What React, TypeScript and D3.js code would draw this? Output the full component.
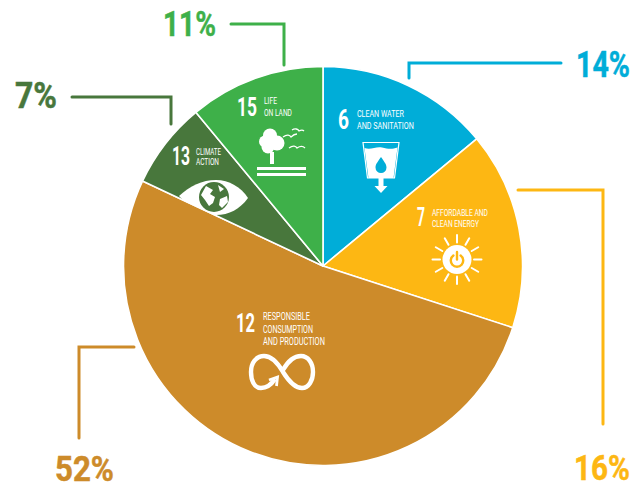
import React, { useLayoutEffect, useRef } from "react";
import * as d3 from "d3";

// Share of each Sustainable Development Goal, clockwise from twelve o'clock.
const goals = ["6", "7", "12", "13", "15"];
const shares = [14, 16, 52, 7, 11];
const shareLabels = ["14%", "16%", "52%", "7%", "11%"];
const colours = ["#00ADD8", "#FDB713", "#CD8B2A", "#48773C", "#3EB049"];
const goalTitles = [
  ["CLEAN WATER", "AND SANITATION"],
  ["AFFORDABLE AND", "CLEAN ENERGY"],
  ["RESPONSIBLE", "CONSUMPTION", "AND PRODUCTION"],
  ["CLIMATE", "ACTION"],
  ["LIFE", "ON LAND"],
];

const W = 641;
const H = 483;
const CX = 323;
const CY = 266;
const R = 199.5;
const FONT = "Roboto, sans-serif";

// Elbow leader lines running from each slice to its percentage.
const leaders: [number, number][][] = [
  [[409, 78], [409, 63], [561, 63]],
  [[518, 190], [603, 190], [603, 424]],
  [[134, 347], [79, 347], [79, 438]],
  [[72, 97], [171, 97], [171, 124]],
  [[231, 24], [284, 24], [284, 65]],
];

// x, baseline, width for the large percentages.
const percentBoxes = [
  [576, 77, 54],
  [574, 480, 56],
  [55, 481, 59],
  [15, 108, 42],
  [163, 36, 53],
];

// x, baseline, width and size for the goal numbers.
const numberBoxes = [
  [338, 129, 11, 27],
  [417, 226, 8, 25],
  [236, 332, 19, 26],
  [172, 165, 18, 25],
  [237, 116, 20, 26],
];

// x plus, per line, baseline and width for the goal titles.
const titleBoxes: { x: number; size: number; lines: [number, number][] }[] = [
  { x: 357, size: 9.5, lines: [[117, 47], [129, 57]] },
  { x: 432, size: 9, lines: [[215.5, 56], [226.5, 47]] },
  { x: 263, size: 10, lines: [[320, 47], [332.5, 50], [345, 62]] },
  { x: 196, size: 8.8, lines: [[154.5, 25], [165, 23]] },
  { x: 264, size: 9.5, lines: [[104, 13], [116, 28]] },
];

const sunRays = d3.range(12).map((i) => (i * Math.PI) / 6);

// Condenses a label horizontally until it spans the requested width.
function FitText({ x, y, width, size, fill, weight, thicken = 0, children }: any) {
  const ref = useRef<SVGTextElement>(null);
  useLayoutEffect(() => {
    const node = ref.current;
    if (!node) return;
    const natural = node.getComputedTextLength();
    node.setAttribute("transform", `translate(${x},${y}) scale(${width / natural},1)`);
  });
  return (
    <text
      ref={ref}
      transform={`translate(${x},${y})`}
      fontFamily={FONT}
      fontSize={size}
      fontWeight={weight}
      fill={fill}
      stroke={thicken ? fill : "none"}
      strokeWidth={thicken}
    >
      {children}
    </text>
  );
}

function WaterIcon() {
  return (
    <g>
      <path d="M363 142.5H399L394.5 178H367.5Z" fill="none" stroke="#fff" strokeWidth="1.2" />
      <path d="M364.5 148C371 150.5 376 146 382 147.5C388 149 392 149.5 397.5 147.5L393.5 178H368.5Z" fill="#fff" />
      <path d="M381 157C384 161.5 386.5 164 386.5 167.5A5.5 5.5 0 0 1 375.5 167.5C375.5 164 378 161.5 381 157Z" fill="#00ADD8" />
      <path d="M378.5 178H383.5V186H387.5L381 193L374.5 186H378.5Z" fill="#fff" />
    </g>
  );
}

function SunIcon() {
  const cx = 457;
  const cy = 259.5;
  return (
    <g>
      {sunRays.map((a) => (
        <line
          key={a}
          x1={cx + 17 * Math.cos(a)}
          y1={cy + 17 * Math.sin(a)}
          x2={cx + 24.5 * Math.cos(a)}
          y2={cy + 24.5 * Math.sin(a)}
          stroke="#fff"
          strokeWidth="2"
          strokeLinecap="round"
        />
      ))}
      <circle cx={cx} cy={cy} r={14.5} fill="#fff" />
      <path
        d={`M${cx - 3.6} ${cy - 4}A6.2 6.2 0 1 0 ${cx + 3.6} ${cy - 4}`}
        fill="none"
        stroke="#FDB713"
        strokeWidth="2.4"
        strokeLinecap="round"
      />
      <line x1={cx} y1={cy - 7.5} x2={cx} y2={cy} stroke="#FDB713" strokeWidth="2.4" strokeLinecap="round" />
    </g>
  );
}

function TreeIcon() {
  return (
    <g fill="#fff">
      <circle cx={270} cy={135.5} r={7} />
      <circle cx={265} cy={141.5} r={6} />
      <circle cx={277} cy={143} r={7.5} />
      <circle cx={268} cy={147} r={6.5} />
      <rect x={270} y={152} width={4} height={12} />
      <rect x={257} y={167} width={49} height={3} />
      <rect x={257} y={173} width={49} height={3} />
      <g fill="none" stroke="#fff" strokeWidth="1.3">
        <path d="M283 137C287 134 290 135 291 137C293 135 296 134 297 134" />
        <path d="M292 130C295 128 298 129 299 131C301 130 303 130 304 131" />
        <path d="M289 148C293 145 296 146 297 148C300 146 303 146 305 148" />
      </g>
    </g>
  );
}

function EyeIcon({ clip }: { clip: string }) {
  return (
    <g clipPath={`url(#${clip})`}>
      <path d="M179 196C190 186 202 180 216 180C229 180 241 187 248 198C240 209 229 215 216 215C202 215 189 207 179 196Z" fill="#fff" />
      <circle cx={214} cy={197} r={15} fill="#48773C" />
      <path d="M206 186L213 190L210 194L215 197L213 203L209 206L205 200L201 195Z" fill="#fff" />
      <path d="M218 185L224 189L220 192Z" fill="#fff" />
      <path d="M220 199L227 196L228 202L222 208L219 205Z" fill="#fff" />
    </g>
  );
}

function InfinityIcon() {
  return (
    <g fill="none" stroke="#fff" strokeLinejoin="miter">
      <path
        d="M275 379C271 385 266 388 261 388C254 388 251 380 251 372C251 363 256 356 264 356C273 356 279 365 283 372C288 380 294 388 302 388C309 388 313 380 313 372C313 363 308 356 301 356C294 356 288 361 283 370"
        strokeWidth="4.4"
      />
      <path d="M269 380L277.5 377L276.5 386" strokeWidth="2.8" />
    </g>
  );
}

export default function App() {
  const pie = d3.pie<number>().sort(null).value((d) => d);
  const arcs = pie(shares);
  const arc = d3.arc<d3.PieArcDatum<number>>().innerRadius(0).outerRadius(R);
  const line = d3.line();

  return (
    <svg
      width={W}
      height={H}
      viewBox={`0 0 ${W} ${H}`}
      style={{ position: "absolute", left: 0, top: 0, background: "#fff" }}
    >
      <defs>
        <clipPath id="climate-slice">
          <path d={arc(arcs[3]) ?? ""} transform={`translate(${CX},${CY})`} />
        </clipPath>
      </defs>

      <g transform={`translate(${CX},${CY})`}>
        {arcs.map((a, i) => (
          <path key={goals[i]} d={arc(a) ?? ""} fill={colours[i]} stroke="#fff" strokeWidth="1.6" strokeLinejoin="round" />
        ))}
      </g>

      <WaterIcon />
      <SunIcon />
      <TreeIcon />
      <EyeIcon clip="climate-slice" />
      <InfinityIcon />

      {goals.map((g, i) => {
        const [x, y, width, size] = numberBoxes[i];
        const t = titleBoxes[i];
        return (
          <g key={g}>
            <FitText x={x} y={y} width={width} size={size} fill="#fff" weight={700}>
              {g}
            </FitText>
            {goalTitles[i].map((label, j) => (
              <FitText key={label} x={t.x} y={t.lines[j][0]} width={t.lines[j][1]} size={t.size} fill="#fff" weight={400}>
                {label}
              </FitText>
            ))}
          </g>
        );
      })}

      {leaders.map((pts, i) => (
        <path
          key={i}
          d={line(pts) ?? ""}
          fill="none"
          stroke={colours[i]}
          strokeWidth="3"
          strokeLinecap="round"
          strokeLinejoin="miter"
        />
      ))}

      {shareLabels.map((label, i) => {
        const [x, y, width] = percentBoxes[i];
        return (
          <FitText key={label} x={x} y={y} width={width} size={36} fill={colours[i]} weight={700} thicken={0.5}>
            {label}
          </FitText>
        );
      })}
    </svg>
  );
}
